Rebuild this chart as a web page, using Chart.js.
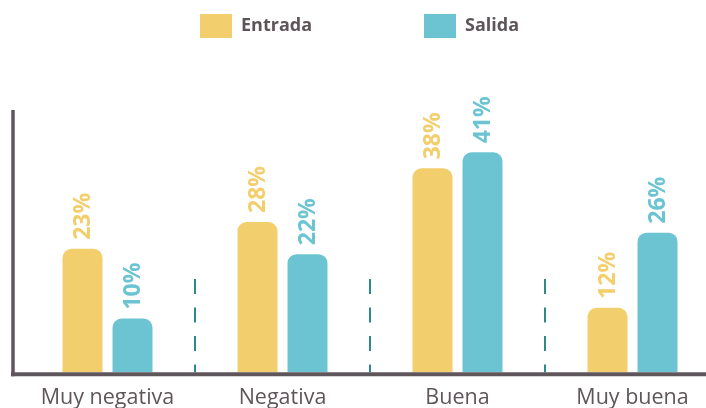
<!DOCTYPE html>
<html>
<head>
<meta charset="utf-8">
<script src="https://cdn.jsdelivr.net/npm/chart.js@4/dist/chart.umd.min.js"></script>
<style>
  html, body { margin: 0; padding: 0; background: #fff; overflow: hidden; }
  #wrap { width: 706px; height: 408px; overflow: hidden; }
</style>
</head>
<body>
<div id="wrap"><canvas id="chart" width="720" height="408"></canvas></div>
<script>
// Chart data
const categories = ['Muy negativa', 'Negativa', 'Buena', 'Muy buena'];
const entrada = [23, 28, 38, 12];
const salida = [10, 22, 41, 26];
const seriesNames = ['Entrada', 'Salida'];

const YELLOW = '#F3CE6C';
const TEAL = '#6CC4D3';
const AXIS = '#5f565b';

// Axis lines and dashed separators between groups
const frame = {
    id: 'frame',
    beforeDatasetsDraw(chart) {
        const ctx = chart.ctx;
        const x = chart.scales.x;
        const area = chart.chartArea;
        ctx.save();
        ctx.strokeStyle = '#2b8a8a';
        ctx.lineWidth = 2;
        ctx.setLineDash([15, 13.5]);
        for (let i = 0; i < categories.length - 1; i++) {
            const mx = (x.getPixelForValue(i) + x.getPixelForValue(i + 1)) / 2;
            ctx.beginPath();
            ctx.moveTo(mx, 279);
            ctx.lineTo(mx, area.bottom);
            ctx.stroke();
        }
        ctx.restore();
    },
    afterDatasetsDraw(chart) {
        const ctx = chart.ctx;
        const area = chart.chartArea;
        ctx.save();
        ctx.strokeStyle = AXIS;
        ctx.lineWidth = 3.5;
        ctx.beginPath();
        ctx.moveTo(13, 110);
        ctx.lineTo(13, area.bottom + 4);
        ctx.stroke();
        ctx.lineWidth = 4;
        ctx.beginPath();
        ctx.moveTo(11, area.bottom + 2);
        ctx.lineTo(chart.width, area.bottom + 2);
        ctx.stroke();
        ctx.restore();
    }
};

// Rotated value labels above each bar
const valueLabels = {
    id: 'valueLabels',
    afterDatasetsDraw(chart) {
        const ctx = chart.ctx;
        ctx.save();
        ctx.font = 'bold 23px "Open Sans"';
        ctx.textAlign = 'left';
        ctx.textBaseline = 'middle';
        chart.data.datasets.forEach((ds, di) => {
            chart.getDatasetMeta(di).data.forEach((bar, i) => {
                ctx.save();
                ctx.translate(bar.x, bar.y - 9);
                ctx.rotate(-Math.PI / 2);
                ctx.fillStyle = ds.backgroundColor;
                ctx.fillText(ds.data[i] + '%', 0, 1);
                ctx.restore();
            });
        });
        ctx.restore();
    }
};

// Legend drawn at fixed spots like the original
const topLegend = {
    id: 'topLegend',
    afterDraw(chart) {
        const ctx = chart.ctx;
        const spots = [200, 424];
        ctx.save();
        ctx.font = 'bold 18px "Open Sans"';
        ctx.textBaseline = 'middle';
        chart.data.datasets.forEach((ds, i) => {
            ctx.fillStyle = ds.backgroundColor;
            ctx.fillRect(spots[i], 14, 32, 24);
            ctx.fillStyle = '#5d5459';
            ctx.fillText(ds.label, spots[i] + 41, 26);
        });
        ctx.restore();
    }
};

new Chart(document.getElementById('chart'), {
    type: 'bar',
    data: {
        labels: categories,
        datasets: [
            { label: seriesNames[0], data: entrada, backgroundColor: YELLOW },
            { label: seriesNames[1], data: salida, backgroundColor: TEAL }
        ]
    },
    options: {
        responsive: false,
        animation: false,
        devicePixelRatio: 1,
        layout: { padding: { left: 20, right: 0, top: 104, bottom: -16 } },
        categoryPercentage: 100 / 175,
        barPercentage: 0.8,
        borderRadius: { topLeft: 9, topRight: 9 },
        borderSkipped: 'start',
        plugins: {
            legend: { display: false },
            tooltip: { enabled: false }
        },
        scales: {
            x: {
                grid: { display: false, drawTicks: false },
                border: { display: false },
                ticks: {
                    color: AXIS,
                    padding: 13,
                    font: { family: 'Open Sans', size: 21.5 }
                }
            },
            y: {
                display: false,
                min: 0,
                max: 50
            }
        }
    },
    plugins: [frame, valueLabels, topLegend]
});
</script>
</body>
</html>
